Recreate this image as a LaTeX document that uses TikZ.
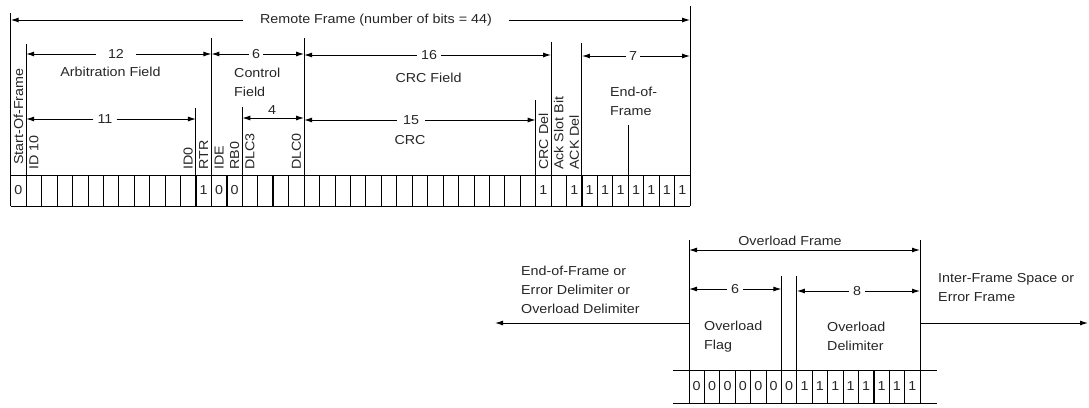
\documentclass[tikz,border=0pt]{standalone}
\usepackage{fontspec}
\setmainfont{Liberation Sans}[FakeStretch=1.1]
\usetikzlibrary{arrows.meta}

\begin{document}
\begin{tikzpicture}[x=1pt, y=-1pt,
    txt/.style={font=\fontsize{13}{19}\selectfont, inner sep=1pt, align=left, text=black!85},
    vtxt/.style={txt, rotate=90, anchor=west},
    arr/.style={line width=1pt, -{Latex[length=8pt,width=5pt]}},
    dim/.style={line width=1pt, {Latex[length=8pt,width=5pt]}-{Latex[length=8pt,width=5pt]}},
    edge/.style={line width=1pt},
    cell/.style={line width=0.75pt},
    thkcell/.style={line width=1.4pt}
  ]
  \useasboundingbox (0,0) rectangle (1089,407);

  % --- Remote frame: 44 bit cells ---
  \foreach \i in {0,...,44} {
    \coordinate (r\i) at (10.7+\i*15.44,175);
    \coordinate (rb\i) at (10.7+\i*15.44,206);
  }
  \draw[cell] (r0) -- (r44);
  \draw[cell] (rb0) -- (rb44);
  \foreach \i in {1,...,43}
    \draw[cell] (r\i) -- (rb\i);
  \foreach \i in {14,17,29}
    \draw[thkcell] (r\i) -- (rb\i);
  % field boundaries reaching up
  \foreach \i/\top in {0/13, 1/44, 12/108, 13/38, 15/107, 19/38, 34/100, 35/42, 37/43, 40/125, 44/6}
    \draw[edge] (rb\i) -- (r\i |- 0,\top);

  % bit values
  \foreach \i/\b in {0/0, 12/1, 13/0, 14/0, 34/1, 36/1, 37/1, 38/1, 39/1, 40/1, 41/1, 42/1, 43/1}
    \node[txt] (bit\i) at (10.7+\i*15.44+7.72,190.5) {\b};

  % bit names
  \node[vtxt] (sof) at (18.4,166) {Start-Of-Frame};
  \foreach \i/\t in {1/ID 10, 11/ID0, 12/RTR, 13/IDE, 14/RB0, 15/DLC3, 18/DLC0, 34/CRC Del, 35/Ack Slot Bit, 36/ACK Del}
    \node[vtxt] (name\i) at (10.7+\i*15.44+7.72,171) {\t};

  % dimension lines
  \node[txt, inner xsep=17pt] (remote) at (376,20) {Remote Frame (number of bits = 44)};
  \draw[arr] (remote) -- (remote -| r0);
  \draw[arr] (remote) -- (remote -| r44);

  \node[txt, inner xsep=12pt] (n12) at (116,54) {12};
  \draw[arr] (n12) -- (n12 -| r1);
  \draw[arr] (n12) -- (n12 -| r13);
  \node[txt, inner xsep=3pt] (n6) at (256,54) {6};
  \draw[arr] (n6) -- (n6 -| r13);
  \draw[arr] (n6) -- (n6 -| r19);
  \node[txt, inner xsep=4pt] (n16) at (429,55) {16};
  \draw[arr] (n16) -- (n16 -| r19);
  \draw[arr] (n16) -- (n16 -| r35);
  \node[txt, inner xsep=3pt] (n7) at (633,56) {7};
  \draw[arr] (n7) -- (n7 -| r37);
  \draw[arr] (n7) -- (n7 -| r44);

  \node[txt, inner xsep=4pt] (n11) at (105,119) {11};
  \draw[arr] (n11) -- (n11 -| r1);
  \draw[arr] (n11) -- (n11 -| r12);
  \node[txt] (n4) at (272,110) {4};
  \draw[dim] (r15 |- 0,118) -- (r19 |- 0,118);
  \node[txt, inner xsep=6pt] (n15) at (411,120) {15};
  \draw[arr] (n15) -- (n15 -| r19);
  \draw[arr] (n15) -- (n15 -| r34);

  % field names
  \node[txt] (arbit) at (110.5,72) {Arbitration Field};
  \node[txt, anchor=west] (ctrl) at (233,82) {Control\\Field};
  \node[txt] (crcf) at (428.5,78) {CRC Field};
  \node[txt] (crc) at (410,140) {CRC};
  \node[txt, anchor=west] (eof) at (609,101) {End-of-\\Frame};

  % --- Overload frame: 15 bit cells ---
  \foreach \i in {0,...,15} {
    \coordinate (o\i) at (689+\i*15.4,370);
    \coordinate (ob\i) at (689+\i*15.4,403);
  }
  \draw[cell] (673,370) -- (937,370);
  \draw[cell] (673,403) -- (937,403);
  \foreach \i in {1,...,14}
    \draw[cell] (o\i) -- (ob\i);
  \foreach \i in {9,12}
    \draw[thkcell] (o\i) -- (ob\i);
  \foreach \i/\top in {0/240, 6/276, 7/276, 15/240}
    \draw[edge] (ob\i) -- (o\i |- 0,\top);

  \foreach \i/\b in {0/0, 1/0, 2/0, 3/0, 4/0, 5/0, 6/0, 7/1, 8/1, 9/1, 10/1, 11/1, 12/1, 13/1, 14/1}
    \node[txt] (obit\i) at (689+\i*15.4+7.7,386.5) {\b};

  \node[txt] (ovl) at (790,241) {Overload Frame};
  \draw[dim] (o0 |- 0,250) -- (o15 |- 0,250);
  \node[txt, inner xsep=4pt] (m6) at (735,289) {6};
  \draw[arr] (m6) -- (m6 -| o0);
  \draw[arr] (m6) -- (m6 -| o6);
  \node[txt, inner xsep=4pt] (m8) at (857,291) {8};
  \draw[arr] (m8) -- (m8 -| o7);
  \draw[arr] (m8) -- (m8 -| o15);

  \node[txt, anchor=west] (oflag) at (703,336.5) {Overload\\Flag};
  \node[txt, anchor=west] (odelim) at (826,336.5) {Overload\\Delimiter};

  % neighbouring frames
  \coordinate (before) at (495,323);
  \coordinate (after) at (1088,323);
  \draw[arr] (o0 |- before) -- (before);
  \draw[arr] (o15 |- after) -- (after);
  \node[txt, anchor=west] (prev) at (520,290) {End-of-Frame or\\Error Delimiter or\\Overload Delimiter};
  \node[txt, anchor=west] (next) at (937,287.5) {Inter-Frame Space or\\Error Frame};
\end{tikzpicture}
\end{document}
